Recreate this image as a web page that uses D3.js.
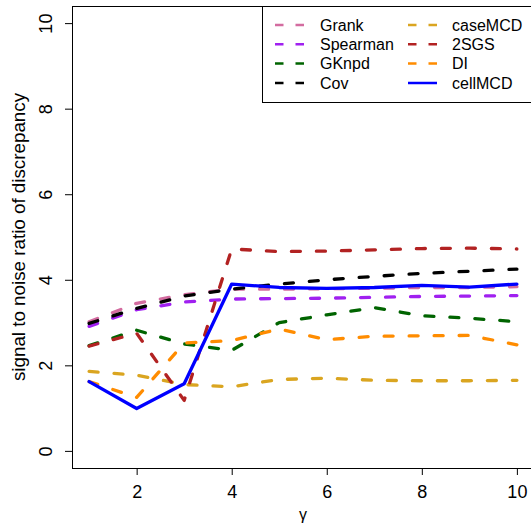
<!DOCTYPE html>
<html>
<head>
<meta charset="utf-8">
<script src="https://cdn.jsdelivr.net/npm/d3@7"></script>
<style>
	body { margin: 0; background: #fff; }
	svg { display: block; font-family: 'Liberation Sans', Arial, sans-serif; }
</style>
</head>
<body>
<script>
// gamma values on the x axis
const gammas = [1, 2, 3, 4, 5, 6, 7, 8, 9, 10];

const methods = ['Grank', 'Spearman', 'GKnpd', 'Cov', 'caseMCD', '2SGS', 'DI', 'cellMCD'];
const colors = ['#d36ca0', '#a020f0', '#006400', '#000000', '#daa520', '#b22222', '#ff8c00', '#0000ff'];
const dashed = [true, true, true, true, true, true, true, false];

const grank = [3.02, 3.45, 3.65, 3.78, 3.78, 3.79, 3.80, 3.82, 3.82, 3.84];
const spearman = [2.91, 3.30, 3.48, 3.55, 3.56, 3.57, 3.59, 3.61, 3.62, 3.63];
const gknpd = [2.46, 2.82, 2.50, 2.35, 3.00, 3.18, 3.35, 3.16, 3.10, 3.02];
const cov = [2.98, 3.33, 3.62, 3.78, 3.90, 4.00, 4.08, 4.15, 4.20, 4.25];
const caseMCD = [1.86, 1.77, 1.55, 1.50, 1.67, 1.70, 1.65, 1.64, 1.64, 1.65];
const twoSGS = [2.45, 2.75, 1.18, 4.72, 4.66, 4.67, 4.70, 4.73, 4.74, 4.72];
const di = [1.62, 1.25, 2.52, 2.58, 2.85, 2.60, 2.68, 2.69, 2.70, 2.48];
const cellMCD = [1.62, 0.99, 1.57, 3.90, 3.82, 3.80, 3.82, 3.87, 3.83, 3.90];

const seriesValues = [grank, spearman, gknpd, cov, caseMCD, twoSGS, di, cellMCD];

const xTicks = [2, 4, 6, 8, 10];
const yTicks = [0, 2, 4, 6, 8, 10];

const width = 531, height = 531;
const box = {left: 72, top: 6, right: 534, bottom: 468};

const svg = d3.select('body').append('svg')
	.attr('width', width)
	.attr('height', height);

// R style 4% range extension
const x = d3.scaleLinear().domain([0.64, 10.36]).range([box.left, box.right]);
const y = d3.scaleLinear().domain([-0.4, 10.4]).range([box.bottom, box.top]);

// series
const line = d3.line()
	.x((d, i) => x(gammas[i]))
	.y(d => y(d));

const plot = svg.append('g');
seriesValues.forEach(function(vals, k) {
	plot.append('path')
		.datum(vals)
		.attr('d', line)
		.attr('fill', 'none')
		.attr('stroke', colors[k])
		.attr('stroke-width', 3.3)
		.attr('stroke-linecap', 'round')
		.attr('stroke-linejoin', 'round')
		.attr('stroke-dasharray', dashed[k] ? '9,16' : null);
});

// axes
const xAxis = svg.append('g')
	.attr('transform', `translate(0,${box.bottom})`)
	.call(d3.axisBottom(x).tickValues(xTicks).tickSize(7).tickPadding(10).tickFormat(d3.format('d')));
xAxis.select('.domain').remove();
xAxis.selectAll('text').attr('font-size', 18).attr('fill', '#000').attr('font-family', null);

const yAxis = svg.append('g')
	.attr('transform', `translate(${box.left},0)`)
	.call(d3.axisLeft(y).tickValues(yTicks).tickSize(7).tickFormat(d3.format('d')));
yAxis.select('.domain').remove();
yAxis.selectAll('text')
	.attr('font-size', 18)
	.attr('fill', '#000')
	.attr('font-family', null)
	.attr('text-anchor', 'middle')
	.attr('dy', null)
	.attr('x', null)
	.attr('transform', 'translate(-26,0) rotate(-90)')
	.attr('dominant-baseline', 'central');

// box
svg.append('rect')
	.attr('x', box.left + 0.5)
	.attr('y', box.top + 0.5)
	.attr('width', box.right - box.left)
	.attr('height', box.bottom - box.top)
	.attr('fill', 'none')
	.attr('stroke', '#000')
	.attr('stroke-width', 1);

// axis titles
svg.append('text')
	.attr('transform', `translate(18,${(box.top + box.bottom) / 2}) rotate(-90)`)
	.attr('text-anchor', 'middle')
	.attr('dominant-baseline', 'central')
	.attr('font-size', 18.8)
	.text('signal to noise ratio of discrepancy');

svg.append('text')
	.attr('x', (box.left + box.right) / 2)
	.attr('y', 514)
	.attr('text-anchor', 'middle')
	.attr('dominant-baseline', 'central')
	.attr('font-size', 16)
	.text('γ');

// legend
const legend = svg.append('g');
legend.append('rect')
	.attr('x', 262.5)
	.attr('y', box.top + 0.5)
	.attr('width', box.right - 262)
	.attr('height', 96)
	.attr('fill', '#fff')
	.attr('stroke', '#000')
	.attr('stroke-width', 1);

const rowY = [25, 44.3, 63.6, 83];
methods.forEach(function(name, k) {
	const col = Math.floor(k / 4);
	const row = k % 4;
	const x0 = col === 0 ? 275 : 408;
	const tx = col === 0 ? 320 : 452;
	legend.append('line')
		.attr('x1', x0)
		.attr('x2', x0 + 29)
		.attr('y1', rowY[row])
		.attr('y2', rowY[row])
		.attr('stroke', colors[k])
		.attr('stroke-width', 2.5)
		.attr('stroke-dasharray', dashed[k] ? '8.5,12' : null);
	legend.append('text')
		.attr('x', tx)
		.attr('y', rowY[row])
		.attr('dominant-baseline', 'central')
		.attr('font-size', 16)
		.text(name);
});
</script>
</body>
</html>
